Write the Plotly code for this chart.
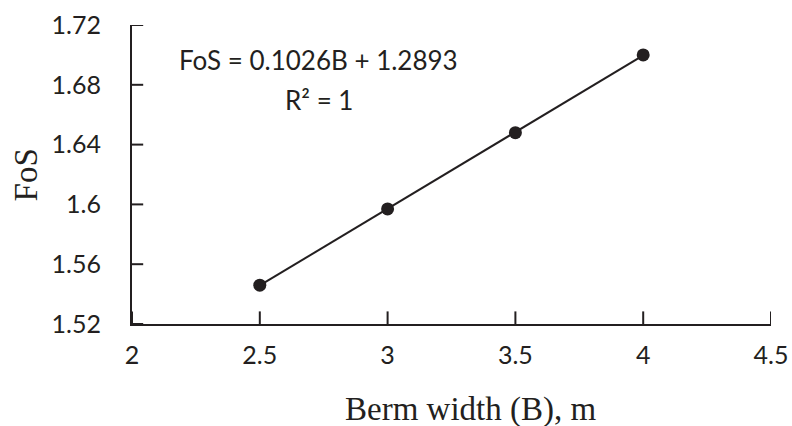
import plotly.graph_objects as go

berm_width = [2.5, 3.0, 3.5, 4.0]
fos = [1.546, 1.597, 1.648, 1.700]
slope = 0.1026
intercept = 1.2893
x_ticks = [2, 2.5, 3, 3.5, 4, 4.5]
x_tick_text = ["2", "2.5", "3", "3.5", "4", "4.5"]
y_ticks = [1.52, 1.56, 1.60, 1.64, 1.68, 1.72]
y_tick_text = ["1.52", "1.56", "1.6", "1.64", "1.68", "1.72"]
x_range = [2, 4.5]
y_range = [1.52, 1.72]
equation_text = "FoS = 0.1026B + 1.2893"
r2_text = "R² = 1"
x_title = "Berm width (B), m"
y_title = "FoS"

ink = "#231f20"
tick_font = dict(family="Lato, Liberation Sans, sans-serif", size=25, color=ink)
title_font = dict(family="Liberation Serif, serif", size=33, color=ink)
trend_y = [slope * b + intercept for b in berm_width]

fig = go.Figure()
fig.add_trace(go.Scatter(x=berm_width, y=trend_y, mode="lines",
                         line=dict(color=ink, width=2), showlegend=False, hoverinfo="skip"))
fig.add_trace(go.Scatter(x=berm_width, y=fos, mode="markers",
                         marker=dict(color=ink, size=13), showlegend=False))

# inward tick marks: centred on the axis lines, outer half clipped by the plot area
fig.add_trace(go.Scatter(x=x_ticks, y=[y_range[0]] * len(x_ticks), mode="markers",
                         marker=dict(symbol="line-ns", size=18, color=ink,
                                     line=dict(color=ink, width=2)),
                         cliponaxis=True, showlegend=False, hoverinfo="skip"))
fig.add_trace(go.Scatter(x=[x_range[0]] * len(y_ticks), y=y_ticks, mode="markers",
                         marker=dict(symbol="line-ew", size=16, color=ink,
                                     line=dict(color=ink, width=2)),
                         cliponaxis=True, showlegend=False, hoverinfo="skip"))

ann_font = dict(family="Lato, Liberation Sans, sans-serif", size=26, color=ink)
fig.add_annotation(x=2.73, y=1.6966, xref="x", yref="y", text=equation_text,
                   showarrow=False, font=ann_font)
fig.add_annotation(x=2.73, y=1.6698, xref="x", yref="y", text=r2_text,
                   showarrow=False, font=ann_font)
fig.add_annotation(x=0.53, y=-0.285, xref="paper", yref="paper", text=x_title,
                   showarrow=False, font=title_font, xanchor="center", yanchor="middle")
fig.add_annotation(x=-0.166, y=0.5, xref="paper", yref="paper", text=y_title,
                   showarrow=False, font=title_font, textangle=-90,
                   xanchor="center", yanchor="middle")

axis_common = dict(showgrid=False, zeroline=False, showline=True, linecolor=ink, linewidth=2,
                   ticks="", tickfont=tick_font, automargin=False)

fig.update_layout(
    width=792, height=426,
    margin=dict(l=132, r=21, t=25, b=102),
    plot_bgcolor="white", paper_bgcolor="white",
    xaxis=dict(range=x_range, tickvals=x_ticks, ticktext=x_tick_text,
               ticklabelstandoff=8, **axis_common),
    yaxis=dict(range=y_range, tickvals=y_ticks, ticktext=y_tick_text,
               ticklabelstandoff=24, **axis_common),
)

fig.write_html("out.html", config={"displayModeBar": False},
               post_script="document.body.style.margin='0';document.body.style.overflow='hidden';")
